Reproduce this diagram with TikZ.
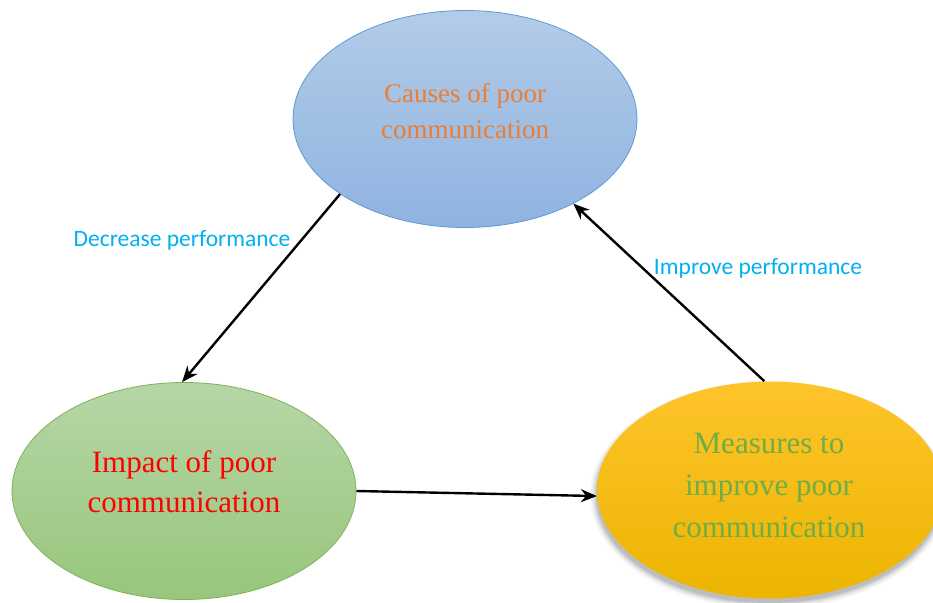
\documentclass[tikz,border=0pt]{standalone}
\usepackage{fontspec}
\setmainfont{Liberation Serif}
\newfontfamily\labelfont{Carlito}
\usetikzlibrary{shapes.geometric,arrows.meta}

\definecolor{blueTop}{HTML}{B3CCE8}
\definecolor{blueBot}{HTML}{8FB3E0}
\definecolor{blueEdge}{HTML}{5B9BD5}
\definecolor{greenTop}{HTML}{B6D6A7}
\definecolor{greenBot}{HTML}{98C67C}
\definecolor{greenEdge}{HTML}{7CB35B}
\definecolor{yelTop}{HTML}{FEC42C}
\definecolor{yelMid}{HTML}{FFC700}
\definecolor{yelBot}{HTML}{ECB500}
\definecolor{causeText}{HTML}{ED7D31}
\definecolor{measureText}{HTML}{70AD47}
\definecolor{perfText}{HTML}{00B0F0}

\tikzset{
  bubble/.style={ellipse, inner sep=0pt, minimum width=344pt, minimum height=217pt,
    line width=0.8pt},
  bubbletext/.style={align=center, inner sep=0pt},
  flow/.style={line width=2.4pt, -{Stealth[length=16pt,width=13pt]}},
  perf/.style={font=\labelfont\fontsize{23.5}{28}\selectfont, text=perfText}
}

\begin{document}
\begin{tikzpicture}[x=1pt,y=-1pt]
\useasboundingbox (0,0) rectangle (933,602);
\fill[white] (0,0) rectangle (933,602);

% soft shadow under the yellow ellipse
\foreach \s/\o in {6/0.03,4.5/0.04,3/0.05,1.5/0.07,0/0.09}
  \fill[black, opacity=\o] (769,495) ellipse [x radius=173+\s, y radius=108+\s];

\node[bubble, draw=blueEdge, top color=blueTop, bottom color=blueBot] (causes) at (465,119) {};
\node[bubbletext, font=\fontsize{27}{36}\selectfont, text=causeText] (causesText) at (465,111)
  {Causes of poor\\communication};

\node[bubble, draw=greenEdge, top color=greenTop, bottom color=greenBot] (impact) at (184,491) {};
\node[bubbletext, font=\fontsize{31}{40}\selectfont, text=red] (impactText) at (184,482)
  {Impact of poor\\communication};

\node[bubble, minimum width=346pt, top color=yelTop, middle color=yelMid, bottom color=yelBot] (measures) at (770,490) {};
\node[bubbletext, font=\fontsize{31}{42}\selectfont, text=measureText] (measuresText) at (769,485)
  {Measures to\\improve poor\\communication};

\draw[flow] (causes.211) -- (impact.91);
\draw[flow] (measures.93) -- (causes.-38);
\draw[flow] (impact.0) -- (measures.182);

\node[perf] (dec) at (182,240) {Decrease performance};
\node[perf] (imp) at (758,268) {Improve performance};
\end{tikzpicture}
\end{document}
